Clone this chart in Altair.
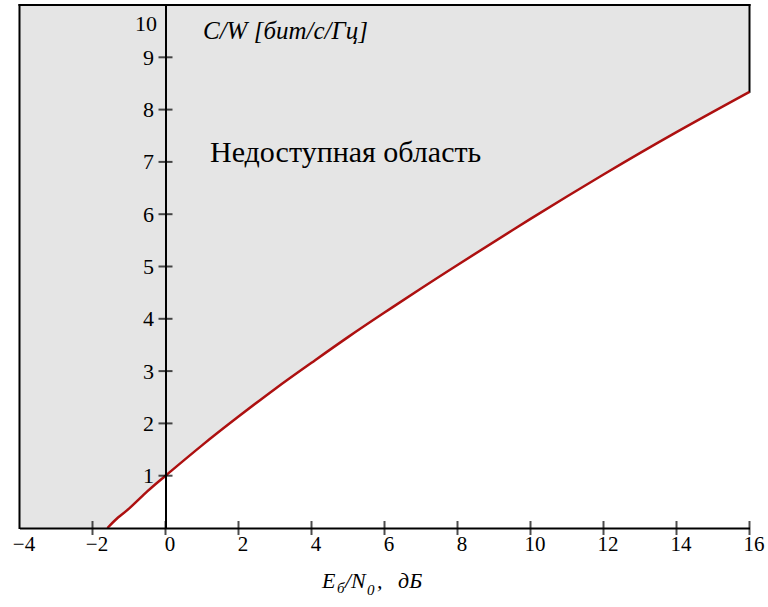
import altair as alt
import pandas as pd

# Curve: Eb/N0 [dB] vs C/W [bit/s/Hz]
ebn0_db = [-1.59, -1.3, -1.0, -0.5, 0.0, 1.0, 2.0, 3.0, 4.0, 5.0, 6.0, 7.0, 8.0, 10.0, 12.0, 14.0, 16.0]
cw = [0.0, 0.2, 0.37, 0.7, 1.0, 1.58, 2.13, 2.66, 3.16, 3.65, 4.12, 4.58, 5.03, 5.91, 6.76, 7.57, 8.34]

x_domain = [-4, 16]
y_domain = [0, 10]
x_label_values = [-4, -2, 0, 2, 4, 6, 8, 10, 12, 14, 16]
x_tick_values = [-2, 0, 2, 4, 6, 8, 10, 12, 14, 16]
y_label_values = [1, 2, 3, 4, 5, 6, 7, 8, 9, 10]
y_tick_values = [1, 2, 3, 4, 5, 6, 7, 8, 9]

region_label = "Недоступная область"
y_title = "C/W [бит/с/Гц]"

GRAY = "#e5e5e5"
RED = "#ad1010"
FONT = "Liberation Serif"

curve_df = pd.DataFrame({"x": ebn0_db, "y": cw, "top": [y_domain[1]] * len(cw)})
left_df = pd.DataFrame({"x": [x_domain[0]], "x2": [ebn0_db[0]], "y": [y_domain[0]], "y2": [y_domain[1]]})
border_df = pd.DataFrame({
    "x": [x_domain[0], x_domain[0], x_domain[1]],
    "x2": [x_domain[0], x_domain[1], x_domain[1]],
    "y": [y_domain[0], y_domain[1], cw[-1]],
    "y2": [y_domain[1], y_domain[1], y_domain[1]],
})
xt_df = pd.DataFrame({"x": x_tick_values, "y": [0] * len(x_tick_values)})
yt_df = pd.DataFrame({"x": [0] * len(y_tick_values), "y": y_tick_values})

xs = alt.Scale(domain=x_domain, nice=False, zero=False)
ys = alt.Scale(domain=y_domain, nice=False, zero=False)

x_axis = alt.Axis(values=x_label_values, ticks=False, grid=False, domainColor="black",
                  domainWidth=2, labelFont=FONT, labelFontSize=21, labelColor="black",
                  labelPadding=5, labelOffset=4, title=None, zindex=1, labelFlush=False)
y_axis = alt.Axis(values=y_label_values, ticks=False, grid=False, domainColor="black",
                  domainWidth=2, labelFont=FONT, labelFontSize=22, labelColor="black",
                  labelPadding={"condition": {"test": "datum.value == 10", "value": 9}, "value": 12},
                  labelOffset={"condition": {"test": "datum.value == 10", "value": 18}, "value": 0},
                  offset=-146, title=None, zindex=1, labelFlush=False)

X = alt.X("x:Q", scale=xs, axis=x_axis)
Y = alt.Y("y:Q", scale=ys, axis=y_axis)

left_rect = alt.Chart(left_df).mark_rect(color=GRAY, stroke=GRAY, strokeWidth=1.5).encode(
    x=X, x2="x2:Q", y=Y, y2="y2:Q")

area = alt.Chart(curve_df).mark_area(color=GRAY, interpolate="natural").encode(
    x=X, y=Y, y2="top:Q")

borders = alt.Chart(border_df).mark_rule(color="black", strokeWidth=2, strokeCap="square").encode(
    x=X, x2="x2:Q", y=Y, y2="y2:Q")

xticks = alt.Chart(xt_df).mark_tick(color="black", orient="vertical", size=14, thickness=2).encode(
    x=X, y=Y)
yticks = alt.Chart(yt_df).mark_tick(color="black", orient="horizontal", size=14, thickness=2).encode(
    x=X, y=Y)

line = alt.Chart(curve_df).mark_line(color=RED, strokeWidth=2.5, interpolate="natural").encode(
    x=X, y=Y)

def txt(s, x, y, size, italic=True, baseline="alphabetic"):
    return alt.Chart(pd.DataFrame({"t": [s]})).mark_text(
        font=FONT, fontSize=size, fontStyle="italic" if italic else "normal",
        align="left", baseline=baseline, color="black").encode(
        text="t:N", x=alt.value(x), y=alt.value(y))

texts = [
    txt(region_label, 190.5, 148, 30, italic=False, baseline="middle"),
    txt(y_title, 183.5, 26, 25, baseline="middle"),
    txt("E", 302.5, 583, 22),
    txt("б", 317.5, 588, 15),
    txt("/N", 325.5, 583, 22),
    txt("0", 347.5, 590, 15),
    txt(",", 357.5, 583, 22),
    txt("дБ", 378.5, 583, 22),
]

chart = alt.layer(left_rect, area, borders, line, xticks, yticks, *texts).properties(
    width=730, height=523,
    padding={"left": 19.5, "top": 5, "right": 18.5, "bottom": 79},
    autosize=alt.AutoSizeParams(type="none"),
    background="white",
).configure_view(stroke=None)

chart.save("out.html", embed_options={"renderer": "svg", "actions": False})
